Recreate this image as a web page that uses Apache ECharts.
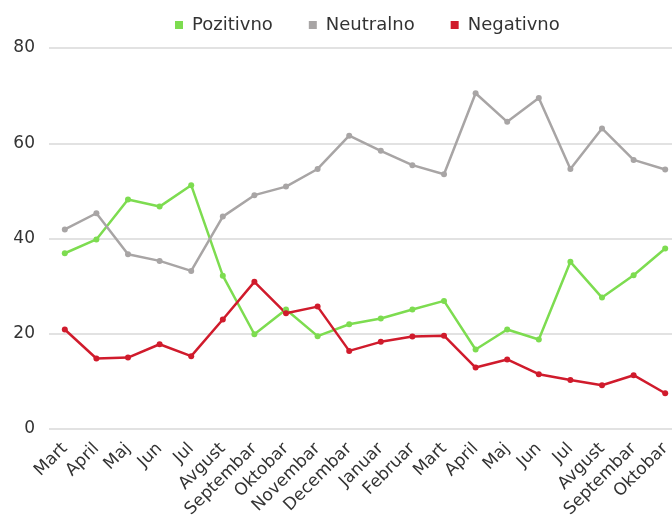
<!DOCTYPE html>
<html>
<head>
<meta charset="utf-8">
<script src="https://cdn.jsdelivr.net/npm/echarts@6/dist/echarts.min.js"></script>
<style>
  html, body { margin: 0; padding: 0; background: #fff; overflow: hidden; }
  /* chart is a bit wider than the window, the right edge gets cut like in the source */
  #chart { width: 690px; height: 525px; }
</style>
</head>
<body>
<div id="chart"></div>
<script>
const months = ['Mart', 'April', 'Maj', 'Jun', 'Jul', 'Avgust', 'Septembar', 'Oktobar', 'Novembar', 'Decembar',
  'Januar', 'Februar', 'Mart', 'April', 'Maj', 'Jun', 'Jul', 'Avgust', 'Septembar', 'Oktobar']

const pozitivno = [36.9, 39.8, 48.2, 46.7, 51.2, 32.2, 19.9, 25.1, 19.5, 22.0,
  23.2, 25.1, 26.9, 16.7, 20.9, 18.8, 35.1, 27.6, 32.3, 37.9]
const neutralno = [41.9, 45.3, 36.7, 35.3, 33.2, 44.6, 49.1, 50.9, 54.6, 61.6,
  58.4, 55.4, 53.5, 70.5, 64.5, 69.5, 54.6, 63.1, 56.5, 54.5]
const negativno = [20.9, 14.8, 15.0, 17.8, 15.3, 23.0, 30.9, 24.3, 25.7, 16.4,
  18.3, 19.4, 19.6, 12.9, 14.6, 11.5, 10.3, 9.2, 11.3, 7.5]

const yTicks = [0, 20, 40, 60, 80]

const chart = echarts.init(document.getElementById('chart'))

const makeLine = (name, data, color) => ({
  name,
  type: 'line',
  data,
  symbol: 'circle',
  symbolSize: 6,
  lineStyle: { width: 2.5, color },
  itemStyle: { color },
  animation: false
})

chart.setOption({
  textStyle: { fontFamily: 'DejaVu Sans' },
  legend: {
    top: 11,
    left: 170,
    icon: 'rect',
    itemWidth: 8,
    itemHeight: 8,
    itemGap: 36,
    textStyle: { color: '#333', fontSize: 18, padding: [0, 0, 0, 4] },
    data: ['Pozitivno', 'Neutralno', 'Negativno']
  },
  grid: {
    left: 49,
    right: 9,
    top: 48,
    bottom: 96
  },
  xAxis: {
    type: 'category',
    data: months,
    boundaryGap: true,
    axisLine: { show: false },
    axisTick: { show: false },
    axisLabel: {
      rotate: 45,
      interval: 0,
      color: '#333',
      fontSize: 17,
      margin: 17
    }
  },
  yAxis: {
    type: 'value',
    min: yTicks[0],
    max: yTicks[yTicks.length - 1],
    interval: 20,
    axisLine: { show: false },
    axisTick: { show: false },
    axisLabel: { color: '#333', fontSize: 17, margin: 14 },
    splitLine: { lineStyle: { color: '#d9d9d9', width: 1.5 } }
  },
  series: [
    makeLine('Pozitivno', pozitivno, '#7ddc50'),
    makeLine('Neutralno', neutralno, '#a8a5a5'),
    makeLine('Negativno', negativno, '#d01b2c')
  ]
})
</script>
</body>
</html>
